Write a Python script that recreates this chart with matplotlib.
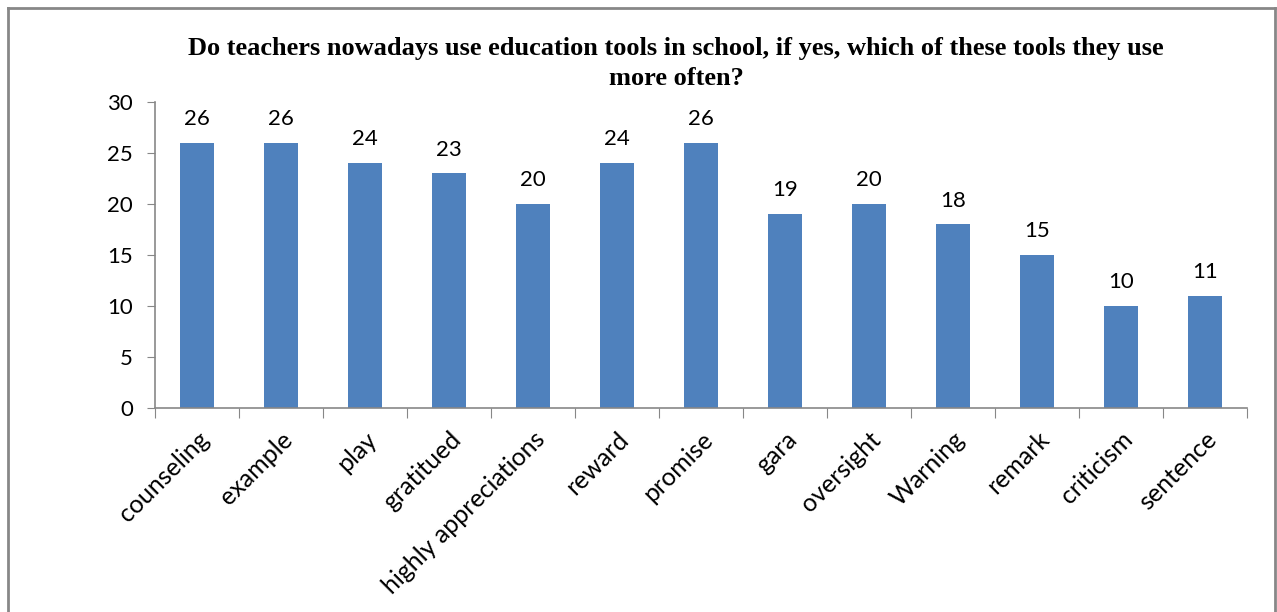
import numpy as np
import matplotlib.pyplot as plt
from matplotlib.lines import Line2D

# data
tools = ["counseling", "example", "play", "gratitued", "highly appreciations",
         "reward", "promise", "gara", "oversight", "Warning", "remark",
         "criticism", "sentence"]
counts = [26, 26, 24, 23, 20, 24, 26, 19, 20, 18, 15, 10, 11]
yticks = [0, 5, 10, 15, 20, 25, 30]

title_lines = ["Do teachers nowadays use education tools in school, if yes, which of these tools they use",
               "more often?"]

W, H = 1277, 612
fig = plt.figure(figsize=(W / 100, H / 100), dpi=100)
ax = fig.add_axes([155 / W, 1 - 408 / H, (1247 - 155) / W, (408 - 102) / H])

x = np.arange(len(tools))
bars = ax.bar(x, counts, width=0.4, color="#4F81BD")

for xi, c in zip(x, counts):
    ax.annotate(str(c), (xi, c), xytext=(0, 10), textcoords="offset points",
                ha="center", va="bottom", fontsize=16, family="Lato")

ax.set_xlim(-0.5, len(tools) - 0.5)
ax.set_ylim(0, 30)
ax.set_yticks(yticks)
ax.set_yticklabels([str(v) for v in yticks], fontsize=16, family="Lato")

# ticks on category boundaries, labels at bar centres
ax.set_xticks(np.arange(len(tools) + 1) - 0.5)
ax.set_xticklabels([])
ax.set_xticks(x, minor=True)
ax.set_xticklabels(tools, minor=True, rotation=45, ha="right", va="top",
                   rotation_mode="anchor", fontsize=18, family="Lato")
ax.tick_params(axis="x", which="minor", length=0, pad=14)
ax.tick_params(axis="x", which="major", length=7, color="#878787")
ax.tick_params(axis="y", length=6, color="#878787", pad=10)

for s in ["top", "right"]:
    ax.spines[s].set_visible(False)
for s in ["left", "bottom"]:
    ax.spines[s].set_color("#878787")
    ax.spines[s].set_linewidth(1.2)

# title, two centred lines
for line, yb in zip(title_lines, [55, 85]):
    fig.text(676 / W, 1 - yb / H, line, ha="center", va="baseline",
             fontsize=19, fontweight="bold", family="Liberation Serif")

# outer chart frame
fx0, fx1, fy0 = 8 / W, 1275 / W, 1 - 8 / H
for xs, ys in [([fx0, fx0], [0, fy0]), ([fx0, fx1], [fy0, fy0]), ([fx1, fx1], [fy0, 0])]:
    fig.add_artist(Line2D(xs, ys, color="#878787", lw=2.0, transform=fig.transFigure))

fig.savefig("out.png", dpi=100)
